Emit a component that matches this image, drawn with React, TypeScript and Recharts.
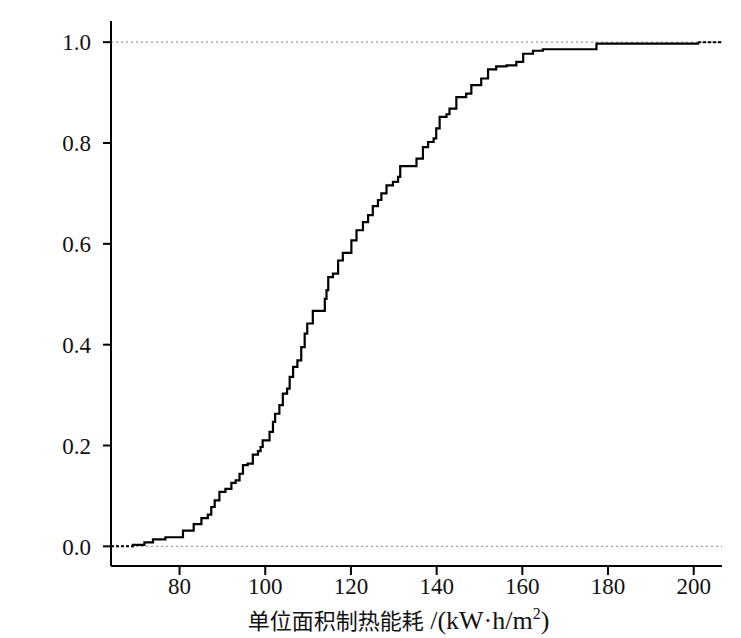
import React from "react";
import {
  Line,
  LineChart,
  ReferenceLine,
  XAxis,
  YAxis,
} from "recharts";

const energyValues = [
  69.0, 69.1, 71.8, 73.8, 76.7, 80.8, 83.3, 85.1, 86.6, 87.4, 88.2, 89.3,
  90.7, 92.1, 93.1, 94.0, 94.8, 95.9, 97.1, 98.3, 98.9, 99.4, 101.0, 101.8,
  102.3, 103.3, 104.1, 105.1, 105.7, 106.5, 107.5, 108.4, 109.2, 109.8,
  111.1, 113.9, 114.3, 114.7, 115.8, 117.0, 118.1, 120.1, 121.3, 122.8,
  124.0, 125.1, 126.3, 127.1, 128.3, 129.8, 131.0, 131.5, 135.3, 136.8,
  138.0, 139.3, 139.9, 140.7, 142.3, 143.0, 144.6, 146.9, 148.1, 150.4,
  152.0, 153.9, 156.3, 158.6, 160.2, 162.5, 164.8, 177.3, 201.0,
];
const cumulativeShare = [
  0, 0.003, 0.008, 0.014, 0.018, 0.031, 0.044, 0.056, 0.063, 0.078, 0.091,
  0.108, 0.114, 0.126, 0.131, 0.144, 0.161, 0.164, 0.182, 0.189, 0.197,
  0.21, 0.227, 0.247, 0.263, 0.28, 0.303, 0.313, 0.336, 0.356, 0.369, 0.395,
  0.422, 0.442, 0.467, 0.491, 0.508, 0.534, 0.541, 0.567, 0.582, 0.607,
  0.627, 0.643, 0.657, 0.675, 0.687, 0.7, 0.716, 0.723, 0.733, 0.754, 0.769,
  0.792, 0.802, 0.809, 0.829, 0.852, 0.857, 0.868, 0.891, 0.898, 0.915,
  0.928, 0.946, 0.952, 0.954, 0.961, 0.977, 0.983, 0.986, 0.997, 1.0,
];
const xTicks = [80, 100, 120, 140, 160, 180, 200];
const yTicks = [0, 0.2, 0.4, 0.6, 0.8, 1.0];
const xDomain = [64, 206.6];
const yDomain = [-0.039, 1.042];

const ecdf = energyValues.map((x, i) => ({ x, y: cumulativeShare[i] }));
const leftTail = [
  { x: xDomain[0], y: 0 },
  { x: energyValues[0], y: 0 },
];
const rightTail = [
  { x: energyValues[energyValues.length - 1], y: 1 },
  { x: xDomain[1], y: 1 },
];

const serif = "Liberation Serif";

const AxisTitle = (props: any) => {
  const vb = props.viewBox || {};
  const cx = vb.x + vb.width / 2 - 18;
  return (
    <text
      x={cx}
      y={629}
      textAnchor="middle"
      fill="#111"
      style={{ fontFamily: serif, fontSize: 26 }}
    >
      <tspan style={{ fontFamily: "Noto Sans CJK SC", fontSize: 22 }}>
        单位面积制热能耗
      </tspan>
      <tspan> /(kW·h/m</tspan>
      <tspan dy={-10} style={{ fontSize: 16 }}>
        2
      </tspan>
      <tspan dy={10}>)</tspan>
    </text>
  );
};

const tickStyle = { fontSize: 23, fill: "#111", fontFamily: serif };

export default function App() {
  return (
    <div
      style={{
        position: "absolute",
        left: 0,
        top: 0,
        background: "#fff",
        fontFamily: serif,
      }}
    >
      <LineChart
        width={741}
        height={638}
        margin={{ top: 21, right: 19, left: 51, bottom: 32 }}
        style={{ fontFamily: serif }}
      >
        <XAxis
          type="number"
          dataKey="x"
          domain={xDomain}
          ticks={xTicks}
          allowDataOverflow
          height={40}
          tick={tickStyle}
          tickSize={9}
          tickMargin={3}
          axisLine={{ stroke: "#000", strokeWidth: 2 }}
          tickLine={{ stroke: "#000", strokeWidth: 2 }}
          label={<AxisTitle />}
        />
        <XAxis
          xAxisId="top"
          orientation="top"
          type="number"
          dataKey="x"
          domain={xDomain}
          height={0}
          tick={false}
          tickLine={false}
          axisLine={{ stroke: "#888", strokeWidth: 2 }}
        />
        <YAxis
          type="number"
          domain={yDomain}
          ticks={yTicks}
          allowDataOverflow
          width={60}
          tick={tickStyle}
          tickSize={8}
          tickMargin={12}
          tickFormatter={(v: number) => v.toFixed(1)}
          axisLine={{ stroke: "#000", strokeWidth: 2 }}
          tickLine={{ stroke: "#000", strokeWidth: 2 }}
        />
        <YAxis
          yAxisId="right"
          orientation="right"
          domain={yDomain}
          width={0}
          tick={false}
          tickLine={false}
          axisLine={{ stroke: "#444", strokeWidth: 2 }}
        />
        <ReferenceLine y={0} stroke="#999" strokeWidth={1.3} strokeDasharray="2 3" />
        <ReferenceLine y={1} stroke="#999" strokeWidth={1.3} strokeDasharray="2 3" />
        <Line
          data={leftTail}
          dataKey="y"
          stroke="#000"
          strokeWidth={2}
          strokeDasharray="3 2"
          dot={false}
          isAnimationActive={false}
        />
        <Line
          data={rightTail}
          dataKey="y"
          stroke="#000"
          strokeWidth={2}
          strokeDasharray="3 2"
          dot={false}
          isAnimationActive={false}
        />
        <Line
          data={ecdf}
          dataKey="y"
          type="stepAfter"
          stroke="#000"
          strokeWidth={2.2}
          dot={false}
          isAnimationActive={false}
        />
      </LineChart>
    </div>
  );
}
